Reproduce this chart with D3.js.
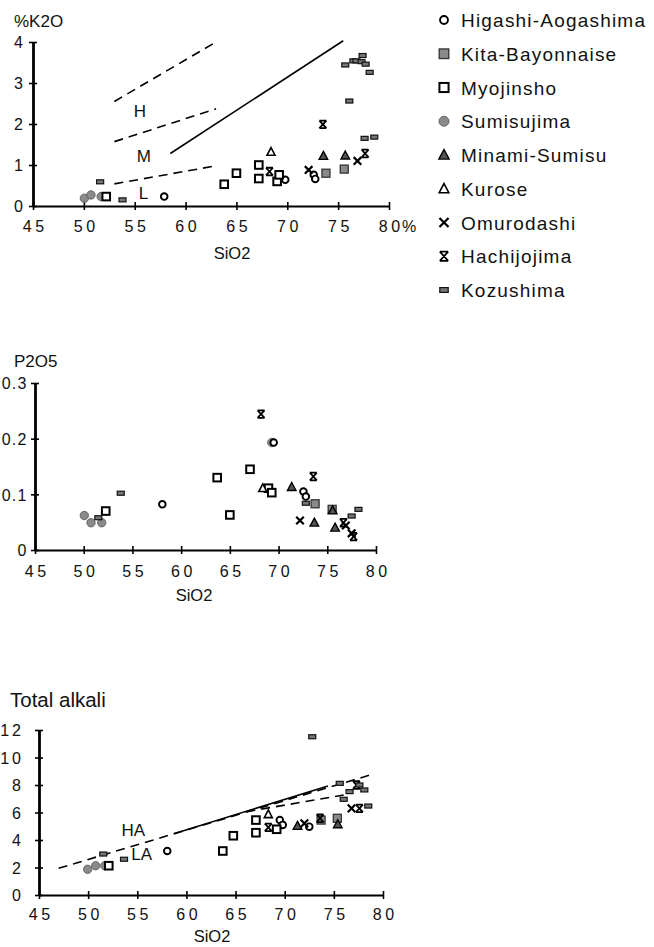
<!DOCTYPE html>
<html><head><meta charset="utf-8">
<script src="https://cdn.jsdelivr.net/npm/d3@7"></script>
<style>
html,body{margin:0;padding:0;background:#fff;}
svg text{font-family:"Liberation Sans",Arial,Helvetica,sans-serif;fill:#111;}
</style></head>
<body><svg id="c" width="654" height="947"></svg>
<script>
// ---------- DATA ----------
const seriesNames = ["Higashi-Aogashima","Kita-Bayonnaise","Myojinsho","Sumisujima","Minami-Sumisu","Kurose","Omurodashi","Hachijojima","Kozushima"];
const xTicks = [45,50,55,60,65,70,75,80];
const k2oTicks = [0,1,2,3,4];
const p2o5Ticks = [0,0.1,0.2,0.3];
const alkaliTicks = [0,2,4,6,8,10,12];

// [series, SiO2, K2O]
const k2oData = [
  ["Sumisujima",50.05,0.19],["Sumisujima",50.7,0.27],["Sumisujima",51.7,0.23],
  ["Higashi-Aogashima",57.9,0.23],["Higashi-Aogashima",72.6,0.76],["Higashi-Aogashima",72.75,0.66],["Higashi-Aogashima",69.8,0.64],
  ["Myojinsho",52.2,0.23],["Myojinsho",63.8,0.53],["Myojinsho",65.0,0.80],["Myojinsho",67.2,1.0],["Myojinsho",67.2,0.67],["Myojinsho",69.0,0.60],["Myojinsho",69.2,0.76],
  ["Kita-Bayonnaise",73.8,0.80],["Kita-Bayonnaise",75.6,0.90],
  ["Minami-Sumisu",73.55,1.22],["Minami-Sumisu",75.7,1.23],
  ["Kurose",68.4,1.32],
  ["Omurodashi",72.1,0.88],["Omurodashi",76.9,1.10],
  ["Hachijojima",68.25,0.84],["Hachijojima",73.5,1.99],["Hachijojima",77.65,1.28],
  ["Kozushima",51.6,0.59],["Kozushima",53.8,0.15],["Kozushima",75.7,3.44],["Kozushima",76.5,3.54],["Kozushima",76.8,3.54],["Kozushima",77.4,3.67],["Kozushima",77.3,3.52],["Kozushima",77.7,3.46],["Kozushima",78.1,3.26],["Kozushima",76.1,2.56],["Kozushima",77.6,1.65],["Kozushima",78.55,1.68]
];
// [series, SiO2, P2O5]
const p2o5Data = [
  ["Sumisujima",50.06,0.062],["Sumisujima",50.75,0.049],["Sumisujima",51.85,0.049],["Sumisujima",69.3,0.193],
  ["Higashi-Aogashima",58.07,0.082],["Higashi-Aogashima",69.5,0.193],["Higashi-Aogashima",72.55,0.105],["Higashi-Aogashima",72.8,0.096],
  ["Myojinsho",52.26,0.070],["Myojinsho",63.7,0.130],["Myojinsho",65.0,0.063],["Myojinsho",67.07,0.145],["Myojinsho",68.96,0.111],["Myojinsho",69.3,0.103],
  ["Kita-Bayonnaise",73.75,0.083],["Kita-Bayonnaise",75.5,0.073],
  ["Minami-Sumisu",71.35,0.113],["Minami-Sumisu",73.67,0.049],["Minami-Sumisu",75.8,0.040],["Minami-Sumisu",75.55,0.071],
  ["Kurose",68.38,0.111],
  ["Omurodashi",72.2,0.053],["Omurodashi",76.9,0.044],["Omurodashi",77.5,0.030],
  ["Hachijojima",68.2,0.244],["Hachijojima",73.57,0.132],["Hachijojima",76.66,0.049],["Hachijojima",77.7,0.024],
  ["Kozushima",51.5,0.058],["Kozushima",53.8,0.102],["Kozushima",72.8,0.084],["Kozushima",77.5,0.061],["Kozushima",78.2,0.073]
];
// [series, SiO2, Na2O+K2O]
const alkaliData = [
  ["Sumisujima",49.95,1.87],["Sumisujima",50.77,2.13],["Sumisujima",51.7,2.13],
  ["Higashi-Aogashima",58.05,3.2],["Higashi-Aogashima",69.5,5.45],["Higashi-Aogashima",69.8,5.1],["Higashi-Aogashima",72.5,4.97],
  ["Myojinsho",52.1,2.13],["Myojinsho",63.7,3.2],["Myojinsho",64.77,4.31],["Myojinsho",67.07,5.45],["Myojinsho",67.07,4.53],["Myojinsho",69.18,4.78],
  ["Kita-Bayonnaise",73.7,5.45],["Kita-Bayonnaise",75.35,5.58],
  ["Minami-Sumisu",71.3,5.02],["Minami-Sumisu",75.4,5.14],
  ["Kurose",68.33,5.87],
  ["Omurodashi",72.0,5.21],["Omurodashi",76.8,6.30],
  ["Hachijojima",68.33,4.92],["Hachijojima",73.6,5.58],["Hachijojima",77.6,6.30],["Hachijojima",77.3,8.0],
  ["Kozushima",51.54,2.98],["Kozushima",53.65,2.6],["Kozushima",72.8,11.51],["Kozushima",75.6,8.12],["Kozushima",76.6,7.52],["Kozushima",76.0,6.96],["Kozushima",77.6,8.0],["Kozushima",78.1,7.64],["Kozushima",78.5,6.47]
];
// boundary lines [x1,y1,x2,y2,dashed]
const k2oLines = [[53,2.55,63,4.0,true],[53,1.57,63,2.37,true],[53,0.54,63,0.98,true],[58.5,1.28,75.5,4.03,false]];
const k2oLabels = [["H",55.5,2.33],["M",55.9,1.23],["L",55.85,0.33]];
const alkaliLines = [[47,1.94,78.7,8.73,true],[58.8,4.48,74.4,7.93,false],[66.1,6.06,76,7.27,true]];
const alkaliLabels = [["HA",54.6,4.73],["LA",55.45,2.98]];

// ---------- DRAW ----------
const svg = d3.select("#c");
const FONT = '"Liberation Sans",Arial,Helvetica,sans-serif';

function marker(g, name, size){
  const s = size||1;
  const grey = "#8a8a8a";
  switch(name){
    case "Higashi-Aogashima":
      g.append("circle").attr("r",3.3*s).attr("fill","#fff").attr("stroke","#000").attr("stroke-width",1.9); break;
    case "Kita-Bayonnaise":
      g.append("rect").attr("x",-4*s).attr("y",-4*s).attr("width",8*s).attr("height",8*s).attr("fill",grey).attr("stroke","#333").attr("stroke-width",1.3); break;
    case "Myojinsho":
      g.append("rect").attr("x",-3.8*s).attr("y",-3.8*s).attr("width",7.6*s).attr("height",7.6*s).attr("fill","#fff").attr("stroke","#000").attr("stroke-width",2); break;
    case "Sumisujima":
      g.append("circle").attr("r",4.2*s).attr("fill",grey).attr("stroke","#555").attr("stroke-width",0.8); break;
    case "Minami-Sumisu":
      g.append("path").attr("d",`M0,${-4.6*s}L${4.3*s},${3.4*s}L${-4.3*s},${3.4*s}Z`).attr("fill","#555").attr("stroke","#000").attr("stroke-width",1.4); break;
    case "Kurose":
      g.append("path").attr("d",`M0,${-4.3*s}L${4*s},${3.3*s}L${-4*s},${3.3*s}Z`).attr("fill","#fff").attr("stroke","#000").attr("stroke-width",1.6); break;
    case "Omurodashi":
      g.append("path").attr("d",`M${-3.8*s},${-3.8*s}L${3.8*s},${3.8*s}M${3.8*s},${-3.8*s}L${-3.8*s},${3.8*s}`).attr("stroke","#000").attr("stroke-width",2.2).attr("fill","none"); break;
    case "Hachijojima":
      g.append("path").attr("d",`M${-3.5*s},${-3.8*s}L${3.5*s},${3.8*s}M${3.5*s},${-3.8*s}L${-3.5*s},${3.8*s}M${-3.5*s},${-3.8*s}L${3.5*s},${-3.8*s}M${-3.5*s},${3.8*s}L${3.5*s},${3.8*s}`).attr("stroke","#000").attr("stroke-width",1.8).attr("fill","none"); break;
    case "Kozushima":
      g.append("rect").attr("x",-3.5*s).attr("y",-2*s).attr("width",7*s).attr("height",4*s).attr("fill","#777").attr("stroke","#111").attr("stroke-width",1.2); break;
  }
}

function panel(cfg){
  const x = d3.scaleLinear().domain([45,80]).range(cfg.xr);
  const y = d3.scaleLinear().domain(cfg.yd).range(cfg.yr);
  const g = svg.append("g");
  const xa = g.append("g").attr("transform",`translate(0,${cfg.yr[0]})`)
    .call(d3.axisBottom(x).tickValues(xTicks).tickSize(4).tickSizeOuter(0).tickFormat(d3.format("d")));
  xa.select(".domain").attr("stroke","#000").attr("stroke-width",1.8);
  xa.selectAll(".tick line").attr("y1",-4).attr("y2",4).attr("stroke","#000").attr("stroke-width",1.6);
  xa.selectAll(".tick text").attr("y",null).attr("dy",null).attr("transform",`translate(1.8,${cfg.xlabY - cfg.yr[0]})`)
    .style("font-family",FONT).style("font-size","16px").style("letter-spacing","3.6px").attr("fill","#111");
  const ya = g.append("g").attr("transform",`translate(${cfg.xr[0]},0)`)
    .call(d3.axisLeft(y).tickValues(cfg.yt).tickSize(4).tickSizeOuter(0).tickFormat(cfg.yf));
  ya.select(".domain").attr("stroke","#000").attr("stroke-width",2.8);
  ya.selectAll(".tick line").attr("x1",-4).attr("x2",4).attr("stroke","#000").attr("stroke-width",1.6);
  ya.selectAll(".tick text").attr("x",cfg.ylabX - cfg.xr[0]).attr("dy","0.36em")
    .style("font-family",FONT).style("font-size","16px").style("letter-spacing",cfg.ySpacing+"px").attr("fill","#111");
  g.append("text").attr("x",cfg.title[1]).attr("y",cfg.title[2]).style("font-size",cfg.title[3]+"px").text(cfg.title[0]);
  g.append("text").attr("x",cfg.sio2[0]).attr("y",cfg.sio2[1]).attr("text-anchor","middle").style("font-size","16.5px").text("SiO2");
  (cfg.lines||[]).forEach(l=>{
    g.append("line").attr("x1",x(l[0])).attr("y1",y(l[1])).attr("x2",x(l[2])).attr("y2",y(l[3]))
      .attr("stroke","#000").attr("stroke-width",1.6).attr("stroke-dasharray",l[4]?"9,6":null);
  });
  (cfg.labels||[]).forEach(l=>{
    g.append("text").attr("x",x(l[1])).attr("y",y(l[2])).attr("dy","0.36em").attr("text-anchor","middle")
      .style("font-size","17px").attr("fill","#000").text(l[0]);
  });
  const order = ["Sumisujima","Higashi-Aogashima","Myojinsho","Kita-Bayonnaise","Minami-Sumisu","Kurose","Omurodashi","Hachijojima","Kozushima"];
  const pts = cfg.data.slice().sort((a,b)=>order.indexOf(a[0])-order.indexOf(b[0]));
  pts.forEach(d=>{
    const m = g.append("g").attr("transform",`translate(${x(d[1])},${y(d[2])})`);
    marker(m,d[0],1);
  });
  return {x,y,g};
}

const panelK2O = panel({xr:[33,389], yd:[0,4], yr:[206,42], yt:k2oTicks, yf:d3.format("d"), ySpacing:3,
  xlabY:232, ylabX:26, title:["%K2O",14,27,17], sio2:[232,259], data:k2oData, lines:k2oLines, labels:k2oLabels});
panelK2O.g.append("text").attr("x",402).attr("y",232).style("font-size","16px").text("%");

panel({xr:[35,376], yd:[0,0.3], yr:[550,383], yt:p2o5Ticks, yf:d=>d===0?"0":d3.format(".1f")(d), ySpacing:1.2,
  xlabY:577, ylabX:27.5, title:["P2O5",14,367,17], sio2:[194,601], data:p2o5Data});

panel({xr:[39,383], yd:[0,12], yr:[895,730], yt:alkaliTicks, yf:d3.format("d"), ySpacing:3,
  xlabY:920, ylabX:24, title:["Total alkali",10,707,20.5], sio2:[212,942], data:alkaliData, lines:alkaliLines, labels:alkaliLabels});

const leg = svg.append("g");
seriesNames.forEach((n,i)=>{
  const by = 27 + i*33.75;
  const m = leg.append("g").attr("transform",`translate(444,${by-7})`);
  marker(m,n,1.2);
  leg.append("text").attr("x",461).attr("y",by).style("font-size","19px").style("letter-spacing","1.2px").text(n);
});
</script></body></html>
